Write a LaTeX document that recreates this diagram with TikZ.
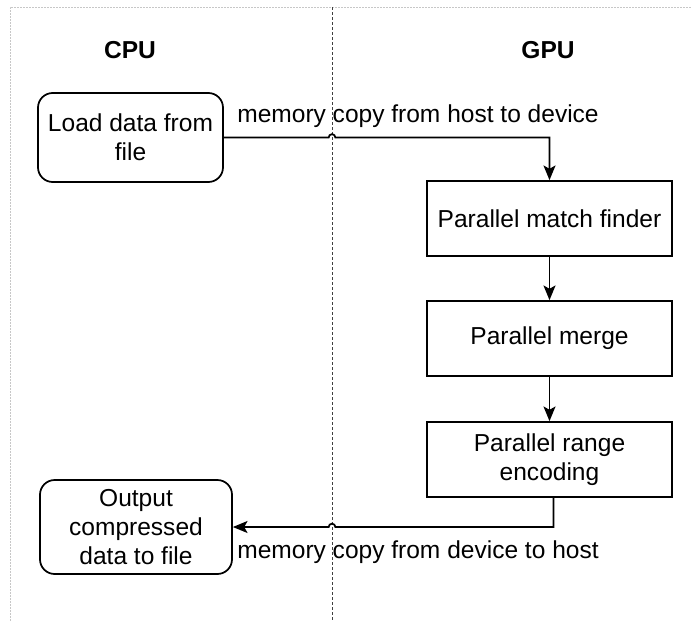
\documentclass[tikz,border=0pt]{standalone}
\usepackage{fontspec}
\setmainfont{Liberation Sans}
\usetikzlibrary{arrows.meta}
\begin{document}
\begin{tikzpicture}[x=0.75pt,y=-0.75pt,
  every node/.style={font=\fontsize{18.4}{21.8}\selectfont, align=center, inner sep=0pt},
  rbox/.style={draw, line width=1.3pt, rounded corners=11pt},
  sbox/.style={draw, line width=1.3pt, minimum width=183.75pt, minimum height=56.25pt},
  flow/.style={line width=1.3pt, -{Stealth[length=11pt,width=9pt,inset=2.5pt]}},
  frameline/.style={line width=0.75pt, draw=black!22, dash pattern=on 1.5pt off 0.75pt},
  divline/.style={line width=0.75pt, draw=black!75, dash pattern=on 2.25pt off 1.5pt},
  title/.style={font=\fontsize{18.4}{21.8}\selectfont\bfseries}]
\useasboundingbox (0,0) rectangle (691,621);
\fill[white] (0,0) rectangle (691,621);

% lane frame and divider
\coordinate (fa) at (10,7);
\coordinate (fb) at (691,7);
\coordinate (fc) at (10,621);
\coordinate (dtop) at (332,7);
\coordinate (dbot) at (332,621);
\draw[frameline] (fc) -- (fa) -- (fb);
\draw[divline] (dtop) -- (dbot);

% lane titles
\node[title] (cpu) at (130,50) {CPU};
\node[title] (gpu) at (548,50) {GPU};

% host side
\node[rbox, minimum width=138.75pt, minimum height=66.75pt] (load) at (130.5,137.5) {Load data from\\file};
\node[rbox, minimum width=144pt, minimum height=70.5pt] (out) at (136,527) {Output\\compressed\\data to file};

% device side
\node[sbox] (match) at (549.5,218.5) {Parallel match finder};
\node[sbox] (merge) at (549.5,338.5) {Parallel merge};
\node[sbox] (range) at (549.5,459.5) {Parallel range\\encoding};

% host to device
\coordinate (x1) at (dtop |- load.east);
\draw[flow] (load.east) -- ([xshift=-2.5pt]x1) arc[start angle=180,end angle=0,radius=2.5pt]
  -- (match.north |- load.east) -- (match.north);
\node (lab1) at (418,116) {memory copy from host to device};

% device pipeline
\draw[flow] (match) -- (merge);
\draw[flow] (merge) -- (range);

% device to host
\coordinate (cr) at ([xshift=3pt]range.south);
\coordinate (bend) at (cr |- out.east);
\coordinate (x2) at (dtop |- out.east);
\draw[flow] (cr) -- (bend) -- ([xshift=2.5pt]x2) arc[start angle=0,end angle=180,radius=2.5pt] -- (out.east);
\node (lab2) at (418,552) {memory copy from device to host};
\end{tikzpicture}
\end{document}
